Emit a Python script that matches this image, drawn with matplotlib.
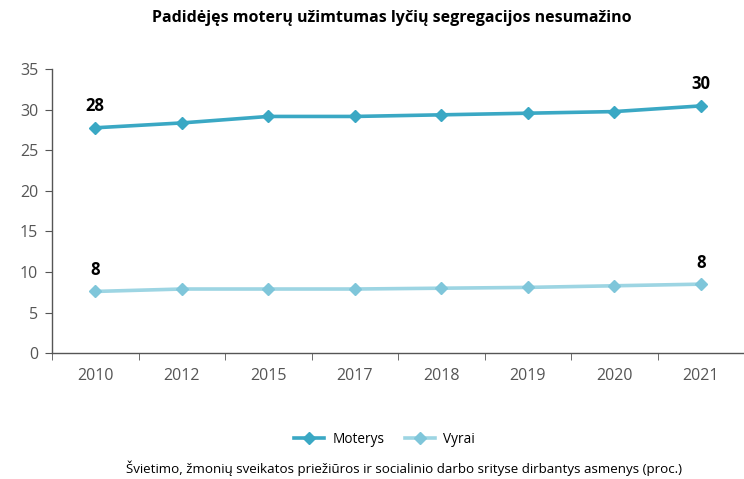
import numpy as np
import matplotlib.pyplot as plt
from matplotlib.ticker import FixedLocator

plt.rcParams['font.family'] = ['Open Sans', 'DejaVu Sans']

years = ['2010', '2012', '2015', '2017', '2018', '2019', '2020', '2021']
moterys = [27.8, 28.4, 29.2, 29.2, 29.4, 29.6, 29.8, 30.5]
vyrai = [7.6, 7.9, 7.9, 7.9, 8.0, 8.1, 8.3, 8.5]
moterys_labels = {0: '28', 7: '30'}
vyrai_labels = {0: '8', 7: '8'}

c_mot = '#3aa8c4'
c_vyr = '#9dd5e3'
c_vyr_m = '#7fc6da'
grey = '#555555'

fig = plt.figure(figsize=(7.44, 4.79), dpi=100)
ax = fig.add_axes([0.07, 0.263, 0.93, 0.592])

x = np.arange(len(years))
ax.plot(x, moterys, color=c_mot, lw=2.6, marker='D', ms=6.5, label='Moterys')
ax.plot(x, vyrai, color=c_vyr, lw=2.6, marker='D', ms=6.5,
        mfc=c_vyr_m, mec=c_vyr_m, label='Vyrai')

for i, t in moterys_labels.items():
    ax.annotate(t, (x[i], moterys[i]), xytext=(0, 9), textcoords='offset points',
                ha='center', va='bottom', fontsize=12, fontweight='bold')
for i, t in vyrai_labels.items():
    ax.annotate(t, (x[i], vyrai[i]), xytext=(0, 9), textcoords='offset points',
                ha='center', va='bottom', fontsize=12, fontweight='bold')

ax.set_xlim(-0.5, len(years) - 0.5)
ax.set_ylim(0, 35)
ax.set_yticks(range(0, 36, 5))
ax.set_xticks(x)
ax.set_xticklabels(years)
ax.xaxis.set_minor_locator(FixedLocator(np.arange(-0.5, len(years), 1)))
ax.tick_params(axis='x', which='major', length=0, pad=11, labelsize=11.5, labelcolor=grey)
ax.tick_params(axis='x', which='minor', length=5, color=grey)
ax.tick_params(axis='y', length=5, color=grey, labelsize=11.5, labelcolor=grey, pad=5)

for s in ['top', 'right']:
    ax.spines[s].set_visible(False)
for s in ['left', 'bottom']:
    ax.spines[s].set_color(grey)
    ax.spines[s].set_linewidth(1)

fig.text(0.527, 0.962, 'Padidėjęs moterų užimtumas lyčių segregacijos nesumažino',
         ha='center', va='center', fontsize=11.5, fontweight='bold')

fig.legend(loc='center', bbox_to_anchor=(0.517, 0.083), ncol=2, frameon=False,
           fontsize=9.8, handlelength=2.2, columnspacing=1.5, handletextpad=0.6)
fig.text(0.543, 0.023,
         'Švietimo, žmonių sveikatos priežiūros ir socialinio darbo srityse dirbantys asmenys (proc.)',
         ha='center', va='center', fontsize=9.6)

fig.savefig('out.png', dpi=100)
